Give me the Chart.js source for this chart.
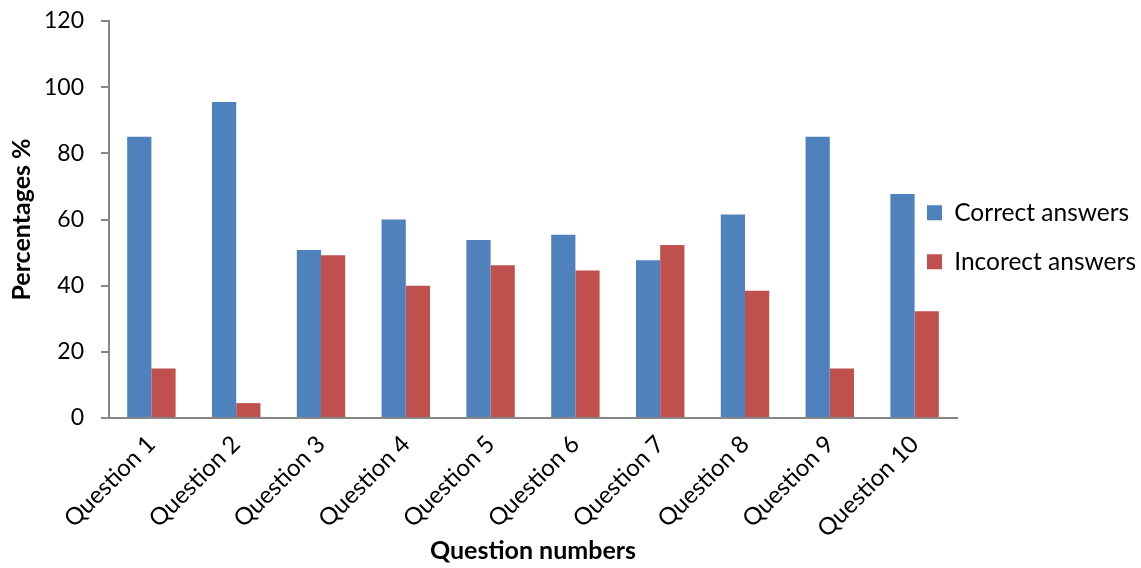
<!DOCTYPE html>
<html>
<head>
<meta charset="utf-8">
<script src="https://cdn.jsdelivr.net/npm/chart.js@4/dist/chart.umd.min.js"></script>
<style>
  html, body { margin: 0; padding: 0; background: #ffffff; }
  #wrap { width: 1141px; height: 568px; }
</style>
</head>
<body>
<div id="wrap"><canvas id="chart" width="1141" height="568"></canvas></div>
<script>
// Share of correct and incorrect answers per question (%)
const questions = ['Question 1', 'Question 2', 'Question 3', 'Question 4', 'Question 5',
                   'Question 6', 'Question 7', 'Question 8', 'Question 9', 'Question 10'];
const correctAnswers   = [85, 95.5, 50.8, 60, 53.8, 55.4, 47.7, 61.5, 85, 67.7];
const incorrectAnswers = [15, 4.5, 49.2, 40, 46.2, 44.6, 52.3, 38.5, 15, 32.3];
const seriesNames = ['Correct answers', 'Incorect answers'];
const yTicks = { min: 0, max: 120, step: 20 };

const FONT = 'Lato, "Open Sans", "Liberation Sans", sans-serif';
const AXIS_GREY = '#878787';

// The legend sits beside the plot but overlaps the plot's empty right margin,
// so it reserves less width than it draws into.
const LEGEND_RESERVE = 184;
const LEGEND_LEFT = 902.5;
const LEGEND_TOP = 176;
const legendBeside = {
  id: 'legendBeside',
  beforeLayout(chart) {
    const lg = chart.legend;
    if (lg && !lg._fitWrapped) {
      const fit = lg.fit;
      lg.fit = function () { fit.call(this); this.width = LEGEND_RESERVE; };
      lg._fitWrapped = true;
    }
  },
  afterLayout(chart) {
    const lg = chart.legend;
    if (!lg) return;
    lg.left = LEGEND_LEFT;
    lg.top = LEGEND_TOP;
    lg.width = lg.right - lg.left;
    lg.height = lg.bottom - lg.top;
  }
};

new Chart(document.getElementById('chart'), {
  type: 'bar',
  data: {
    labels: questions,
    datasets: [
      { label: seriesNames[0], data: correctAnswers, backgroundColor: '#4F81BD', borderWidth: 0 },
      { label: seriesNames[1], data: incorrectAnswers, backgroundColor: '#C0504D', borderWidth: 0 }
    ]
  },
  options: {
    responsive: false,
    animation: false,
    devicePixelRatio: 1,
    layout: { padding: { top: 21, right: 0, bottom: 0, left: 0 } },
    datasets: { bar: { categoryPercentage: 0.571, barPercentage: 1.0 } },
    plugins: {
      tooltip: { enabled: false },
      legend: {
        position: 'right',
        align: 'start',
        labels: {
          color: '#000',
          font: { family: FONT, size: 24.5 },
          boxWidth: 15,
          boxHeight: 15,
          padding: 24.5
        }
      }
    },
    scales: {
      x: {
        offset: true,
        grid: { display: false },
        border: { display: true, color: AXIS_GREY, width: 2 },
        ticks: {
          color: '#000',
          font: { family: FONT, size: 24 },
          minRotation: 45,
          maxRotation: 45,
          autoSkip: false,
          padding: 4
        },
        title: {
          display: true,
          text: 'Question numbers',
          color: '#000',
          font: { family: FONT, size: 25, weight: 'bold' },
          padding: { top: 0, bottom: 2 }
        },
        afterFit(scale) { scale.height = 150; }
      },
      y: {
        min: yTicks.min,
        max: yTicks.max,
        grid: { display: true, drawOnChartArea: false, drawTicks: true, tickLength: 8, color: AXIS_GREY, lineWidth: 2 },
        border: { display: true, color: AXIS_GREY, width: 2 },
        ticks: {
          stepSize: yTicks.step,
          color: '#000',
          font: { family: FONT, size: 23 },
          padding: 17
        },
        title: {
          display: true,
          text: 'Percentages %',
          color: '#000',
          font: { family: FONT, size: 25, weight: 'bold' },
          padding: { top: 7, bottom: 0 }
        },
        afterFit(scale) {
          scale.width = 109;
          // the top label has room above the plot; keep the plot top at the layout padding
          scale.paddingTop = 0;
          scale.paddingBottom = 0;
        }
      }
    }
  },
  plugins: [legendBeside]
});
</script>
</body>
</html>
